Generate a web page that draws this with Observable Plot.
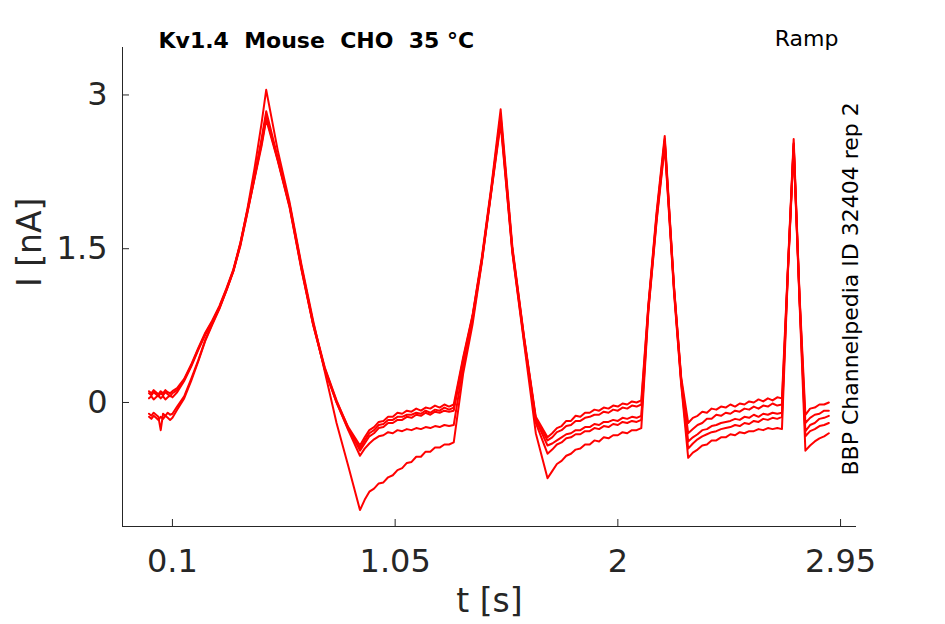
<!DOCTYPE html>
<html><head><meta charset="utf-8">
<script src="https://cdn.jsdelivr.net/npm/d3@7"></script>
<script src="https://cdn.jsdelivr.net/npm/@observablehq/plot@0.6"></script>
<style>body{margin:0;background:#fff} svg text{white-space:pre}</style>
</head><body><div id="chart"></div><script>
// time samples (s)
const time = [
  0,0.01,0.02,0.03,0.04,0.05,0.06,0.07,0.08,0.09,0.10,
  0.12,0.15,0.18,0.21,0.24,0.27,0.30,0.33,0.36,0.39,0.42,0.45,0.48,0.50,
  0.55,0.60,0.65,0.70,0.75,0.80,0.85,0.90,
  0.92,0.94,0.96,0.98,1.00,1.02,1.04,1.06,1.08,1.10,1.12,1.14,1.16,1.18,1.20,1.22,1.24,1.26,1.28,1.30,
  1.34,1.38,1.42,1.46,1.50,
  1.55,1.60,1.65,1.70,
  1.72,1.74,1.76,1.78,1.80,1.82,1.84,1.86,1.88,1.90,1.92,1.94,1.96,1.98,2.00,2.02,2.04,2.06,2.08,2.10,
  2.13,2.165,2.20,
  2.24,2.27,2.30,
  2.32,2.34,2.36,2.38,2.40,2.42,2.44,2.46,2.48,2.50,2.52,2.54,2.56,2.58,2.60,2.62,2.64,2.66,2.68,2.70,
  2.725,2.75,
  2.775,2.80,
  2.82,2.84,2.86,2.88,2.90
];
// current traces (nA)
const trace1 = [
  0.09,0.07,0.10,0.08,0.06,0.09,0.07,0.10,0.08,0.06,0.09,
  0.12,0.22,0.36,0.52,0.67,0.79,0.93,1.10,1.29,1.55,1.87,2.21,2.57,2.84,
  2.38,1.93,1.33,0.77,0.33,0.01,-0.24,-0.42,
  -0.34,-0.27,-0.24,-0.19,-0.18,-0.14,-0.14,-0.10,-0.11,-0.08,-0.09,-0.06,-0.08,-0.05,-0.06,-0.03,-0.05,-0.02,-0.04,-0.02,
  0.44,0.85,1.42,2.10,2.86,
  1.52,0.64,-0.14,-0.34,
  -0.30,-0.25,-0.23,-0.18,-0.18,-0.13,-0.14,-0.10,-0.10,-0.07,-0.08,-0.05,-0.06,-0.03,-0.04,-0.01,-0.02,0.01,0.00,0.02,
  0.95,1.85,2.60,
  1.12,0.25,-0.20,
  -0.15,-0.13,-0.09,-0.10,-0.06,-0.07,-0.04,-0.05,-0.02,-0.04,-0.01,-0.02,0.01,0.00,0.03,0.01,0.04,0.02,0.05,0.04,
  1.30,2.57,
  1.05,-0.12,
  -0.06,-0.05,-0.02,-0.02,0.00
];
const trace2 = [
  0.04,0.06,0.03,0.05,0.07,0.04,0.06,0.03,0.05,0.07,0.05,
  0.10,0.21,0.35,0.51,0.66,0.78,0.92,1.09,1.28,1.53,1.85,2.19,2.54,2.80,
  2.36,1.91,1.31,0.76,0.32,0.00,-0.26,-0.45,
  -0.37,-0.30,-0.27,-0.22,-0.21,-0.17,-0.17,-0.14,-0.14,-0.12,-0.12,-0.10,-0.11,-0.08,-0.10,-0.07,-0.08,-0.05,-0.07,-0.05,
  0.42,0.84,1.40,2.08,2.80,
  1.49,0.62,-0.16,-0.37,
  -0.34,-0.29,-0.27,-0.23,-0.22,-0.18,-0.18,-0.15,-0.14,-0.12,-0.12,-0.09,-0.10,-0.07,-0.08,-0.05,-0.06,-0.03,-0.04,-0.02,
  0.93,1.82,2.57,
  1.10,0.23,-0.30,
  -0.26,-0.22,-0.20,-0.16,-0.16,-0.12,-0.13,-0.10,-0.11,-0.08,-0.09,-0.06,-0.07,-0.04,-0.06,-0.03,-0.04,-0.01,-0.03,-0.02,
  1.28,2.53,
  1.02,-0.20,
  -0.15,-0.12,-0.11,-0.08,-0.08
];
const trace3 = [
  0.11,0.09,0.12,0.10,0.08,0.11,0.09,0.12,0.10,0.09,0.11,
  0.14,0.23,0.37,0.53,0.68,0.80,0.94,1.11,1.30,1.56,1.88,2.20,2.52,2.78,
  2.37,1.92,1.32,0.78,0.34,0.02,-0.25,-0.47,
  -0.40,-0.33,-0.30,-0.25,-0.24,-0.20,-0.20,-0.17,-0.17,-0.14,-0.15,-0.12,-0.13,-0.10,-0.12,-0.09,-0.10,-0.08,-0.09,-0.08,
  0.40,0.83,1.39,2.07,2.78,
  1.50,0.63,-0.17,-0.42,
  -0.40,-0.37,-0.34,-0.31,-0.30,-0.27,-0.27,-0.24,-0.24,-0.21,-0.22,-0.19,-0.19,-0.17,-0.18,-0.15,-0.16,-0.14,-0.15,-0.13,
  0.92,1.80,2.55,
  1.11,0.22,-0.38,
  -0.34,-0.31,-0.27,-0.26,-0.23,-0.22,-0.20,-0.19,-0.18,-0.16,-0.17,-0.14,-0.15,-0.12,-0.14,-0.11,-0.12,-0.10,-0.11,-0.10,
  1.27,2.52,
  1.03,-0.28,
  -0.22,-0.20,-0.16,-0.15,-0.13
];
const trace4 = [
  -0.11,-0.13,-0.10,-0.12,-0.14,-0.27,-0.11,-0.13,-0.10,-0.12,-0.11,
  -0.04,0.06,0.23,0.41,0.61,0.77,0.92,1.10,1.29,1.54,1.86,2.18,2.50,2.76,
  2.35,1.90,1.30,0.76,0.32,0.00,-0.27,-0.52,
  -0.45,-0.40,-0.36,-0.33,-0.32,-0.29,-0.30,-0.27,-0.28,-0.26,-0.27,-0.25,-0.26,-0.24,-0.25,-0.23,-0.24,-0.22,-0.23,-0.22,
  0.35,0.80,1.38,2.06,2.75,
  1.47,0.60,-0.20,-0.50,
  -0.46,-0.41,-0.39,-0.35,-0.34,-0.31,-0.31,-0.28,-0.28,-0.25,-0.26,-0.23,-0.24,-0.21,-0.22,-0.19,-0.20,-0.18,-0.19,-0.17,
  0.90,1.78,2.53,
  1.08,0.20,-0.45,
  -0.40,-0.36,-0.33,-0.31,-0.29,-0.28,-0.26,-0.25,-0.24,-0.22,-0.23,-0.20,-0.21,-0.18,-0.19,-0.16,-0.17,-0.15,-0.16,-0.14,
  1.26,2.50,
  1.00,-0.33,
  -0.28,-0.26,-0.23,-0.22,-0.20
];
const trace5 = [
  -0.14,-0.16,-0.13,-0.15,-0.17,-0.14,-0.16,-0.13,-0.15,-0.17,-0.15,
  -0.07,0.04,0.21,0.40,0.60,0.76,0.91,1.09,1.28,1.55,1.89,2.28,2.72,3.05,
  2.45,1.95,1.35,0.80,0.30,-0.20,-0.62,-1.05,
  -0.95,-0.87,-0.84,-0.79,-0.78,-0.73,-0.71,-0.66,-0.64,-0.59,-0.58,-0.53,-0.53,-0.48,-0.48,-0.44,-0.44,-0.41,-0.41,-0.39,
  0.28,0.76,1.37,2.05,2.72,
  1.46,0.58,-0.30,-0.74,
  -0.67,-0.60,-0.57,-0.52,-0.50,-0.46,-0.45,-0.41,-0.41,-0.37,-0.38,-0.34,-0.35,-0.32,-0.32,-0.29,-0.30,-0.27,-0.27,-0.25,
  0.88,1.76,2.50,
  1.06,0.18,-0.54,
  -0.49,-0.46,-0.42,-0.41,-0.37,-0.37,-0.34,-0.34,-0.31,-0.32,-0.29,-0.30,-0.28,-0.28,-0.26,-0.27,-0.25,-0.26,-0.25,-0.26,
  1.24,2.48,
  0.98,-0.47,
  -0.42,-0.38,-0.35,-0.33,-0.30
];
const traceNames = ["rep1","rep2","rep3","rep4","rep5"];
const xTicks = [0.1, 1.05, 2, 2.95];
const yTicks = [0, 1.5, 3];
const xDomain = [-0.113, 3.018];
const yDomain = [-1.21, 3.463];
const titleText = "Kv1.4  Mouse  CHO  35 °C";
const protocolText = "Ramp";
const sourceText = "BBP Channelpedia ID 32404 rep 2";
const xLabel = "t [s]";
const yLabel = "I [nA]";

const series = [trace1, trace2, trace3, trace4, trace5];
const rows = [];
series.forEach((vals, k) => {
  const n = Math.min(vals.length, time.length);
  for (let i = 0; i < n; i++) rows.push({t: time[i], I: vals[i], trace: traceNames[k]});
});

const axisColor = "#262626";
const chart = Plot.plot({
  width: 945, height: 624,
  marginLeft: 122, marginRight: 89, marginTop: 47, marginBottom: 98,
  style: {fontFamily: "DejaVu Sans", background: "#fff", color: axisColor, overflow: "visible"},
  x: {domain: xDomain},
  y: {domain: yDomain},
  marks: [
    Plot.line(rows, {x: "t", y: "I", z: "trace", stroke: "#ff0000", strokeWidth: 2}),
    Plot.ruleX([xDomain[0]], {stroke: axisColor, strokeWidth: 1}),
    Plot.ruleY([yDomain[0]], {stroke: axisColor, strokeWidth: 1}),
    Plot.axisX({ticks: xTicks, tickSize: -7, tickPadding: 30, fontSize: 32, label: null, tickFormat: d => String(d)}),
    Plot.axisY({ticks: yTicks, tickSize: -7, tickPadding: 22, fontSize: 32, label: null, tickFormat: d => String(d)}),
    Plot.text([xLabel], {frameAnchor: "bottom", dy: 85, fontSize: 33, fill: axisColor}),
    Plot.text([yLabel], {frameAnchor: "left", dx: -92, rotate: -90, fontSize: 33, fill: axisColor}),
    Plot.text([titleText], {frameAnchor: "top-left", dx: 36, dy: -7, lineAnchor: "middle", textAnchor: "start", fontSize: 22, fontWeight: "bold", fill: "#000"}),
    Plot.text([protocolText], {frameAnchor: "top-right", dx: -18, dy: -9, lineAnchor: "middle", textAnchor: "end", fontSize: 22, fill: "#000"}),
    Plot.text([sourceText], {frameAnchor: "bottom-right", dx: -6, dy: -51, rotate: -90, lineAnchor: "middle", textAnchor: "start", fontSize: 22, fill: "#000"})
  ]
});
document.getElementById("chart").append(chart);
</script></body></html>
